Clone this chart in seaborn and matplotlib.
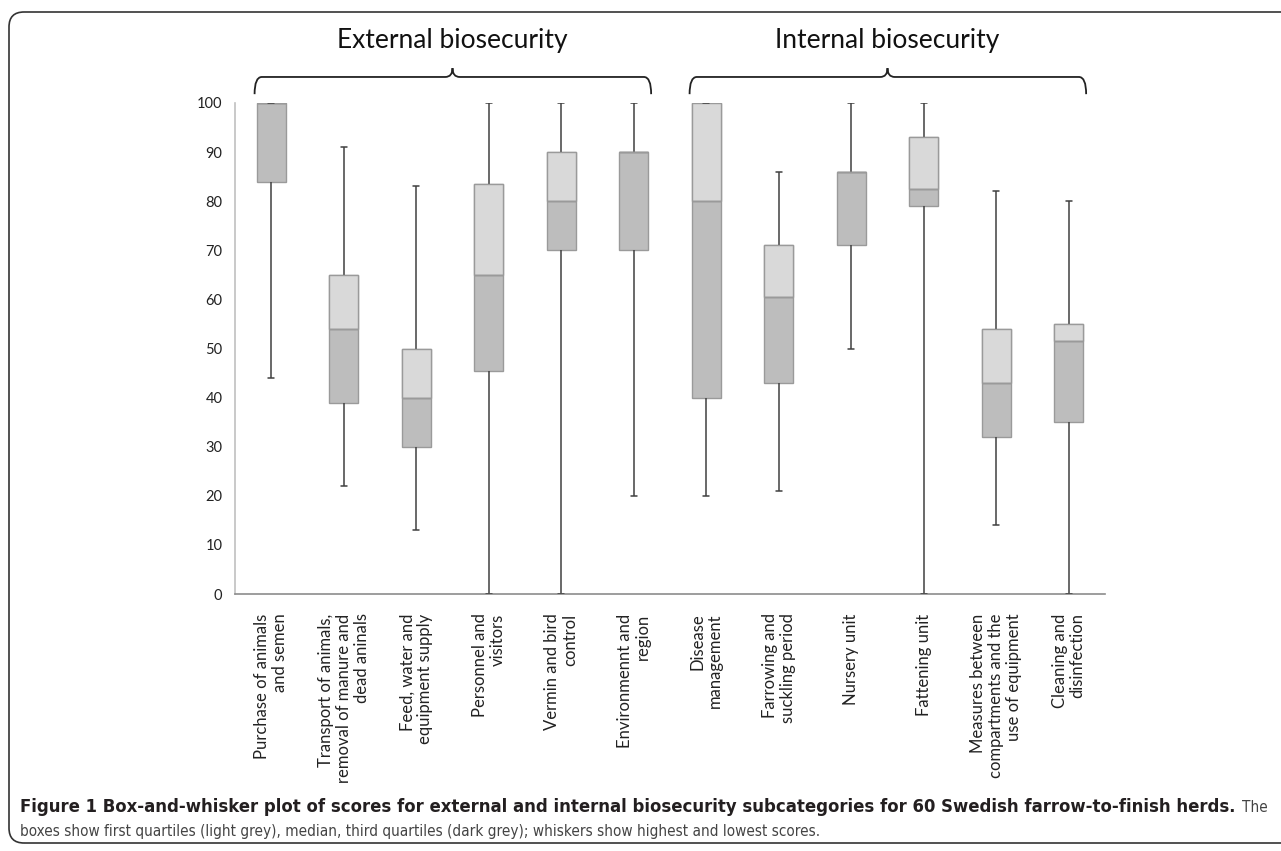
import matplotlib
matplotlib.use("Agg")
import matplotlib.pyplot as plt
import matplotlib.transforms as mtransforms
from matplotlib.path import Path
from matplotlib.patches import PathPatch, FancyBboxPatch
from matplotlib import font_manager
import seaborn as sns
import pandas as pd

# ---- data ----
categories = [
    "Purchase of animals\nand semen",
    "Transport of animals,\nremoval of manure and\ndead aninals",
    "Feed, water and\nequipment supply",
    "Personnel and\nvisitors",
    "Vermin and bird\ncontrol",
    "Environmennt and\nregion",
    "Disease\nmanagement",
    "Farrowing and\nsuckling period",
    "Nursery unit",
    "Fattening unit",
    "Measures between\ncompartments and the\nuse of equipment",
    "Cleaning and\ndisinfection",
]
lowest  = [44, 22, 13, 0,    0,  20, 20, 21,   50, 0,    14, 0]
q1      = [84, 39, 30, 45.5, 70, 70, 40, 43,   71, 79,   32, 35]
median  = [100, 54, 40, 65,  80, 90, 80, 60.5, 86, 82.5, 43, 51.5]
q3      = [100, 65, 50, 83.5, 90, 90, 100, 71, 86, 93,   54, 55]
highest = [100, 91, 83, 100, 100, 100, 100, 86, 100, 100, 82, 80]
groups = ["External biosecurity", "Internal biosecurity"]
group_members = [(0, 5), (6, 11)]
y_ticks = list(range(0, 101, 10))

caption_bold = ("Figure 1 Box-and-whisker plot of scores for external and internal "
                "biosecurity subcategories for 60 Swedish farrow-to-finish herds.")
caption_rest = "The"
caption_line2 = ("boxes show first quartiles (light grey), median, third quartiles "
                 "(dark grey); whiskers show highest and lowest scores.")

# five-number rows -> exact quartiles with linear percentiles
full_rows = []
upper_rows = []
for i, cat in enumerate(categories):
    for v in [lowest[i], q1[i], median[i], q3[i], highest[i]]:
        full_rows.append((cat, v))
    for v in [median[i], median[i], median[i], q3[i], q3[i]]:
        upper_rows.append((cat, v))
df_full = pd.DataFrame(full_rows, columns=["category", "score"])
df_upper = pd.DataFrame(upper_rows, columns=["category", "score"])

DARK = "#bdbdbd"
LIGHT = "#d9d9d9"
EDGE = "#9a9a9a"
WHISK = "#404040"

sns.set_style("white")
installed = {f.name for f in font_manager.fontManager.ttflist}
main_font = "Lato" if "Lato" in installed else "DejaVu Sans"
plt.rcParams["font.family"] = [main_font, "DejaVu Sans"]
cap_font = dict(family=["DejaVu Sans"], fontstretch="condensed")

W, H = 1281, 851
fig = plt.figure(figsize=(W / 100, H / 100), dpi=100)
ax = fig.add_axes([235 / W, (H - 594) / H, 870 / W, 491 / H])

# dark box Q1 -> median, with whiskers
sns.boxplot(data=df_full, x="category", y="score", order=categories, ax=ax,
            whis=(0, 100), width=0.405, color=DARK, saturation=1,
            linecolor=EDGE, linewidth=1.0, showfliers=False,
            whiskerprops=dict(color=WHISK, linewidth=1.1),
            capprops=dict(color=WHISK, linewidth=1.1, zorder=5),
            capwidths=0.085)
# light box median -> Q3
sns.boxplot(data=df_upper, x="category", y="score", order=categories, ax=ax,
            whis=(0, 100), width=0.405, color=LIGHT, saturation=1,
            linecolor=EDGE, linewidth=1.0, showfliers=False, showcaps=False,
            whiskerprops=dict(linewidth=0))

ax.set_ylim(0, 100)
ax.set_xlim(-0.5, len(categories) - 0.5)
ax.set_yticks(y_ticks)
ax.set_xlabel("")
ax.set_ylabel("")
sns.despine(ax=ax, top=True, right=True)
ax.spines["left"].set_color("#c0c0c0")
ax.spines["bottom"].set_color("#8c8c8c")
ax.spines["left"].set_linewidth(1.2)
ax.spines["bottom"].set_linewidth(1.2)
ax.tick_params(axis="y", length=4, color="#b0b0b0", pad=5, labelsize=10.5,
               labelcolor="#222222")
ax.tick_params(axis="x", length=0, pad=14, labelsize=12, labelcolor="#222222")
ax.set_xticks(range(len(categories)))
ax.set_xticklabels(categories, rotation=90, ha="center", va="top")
for lbl in ax.get_xticklabels():
    lbl.set_multialignment("right")
    lbl.set_linespacing(1.15)

# group braces and headings
trans = mtransforms.blended_transform_factory(ax.transData, ax.transAxes)
y_end, y_line, y_tip = 1.018, 1.053, 1.071
dx = 0.1
for name, (a, b) in zip(groups, group_members):
    x0, x1, xc = a - 0.23, b + 0.24, (a + b) / 2
    verts = [(x0, y_end), (x0, y_line), (x0 + dx, y_line),
             (xc - dx, y_line), (xc, y_line), (xc, y_tip),
             (xc, y_line), (xc + dx, y_line),
             (x1 - dx, y_line), (x1, y_line), (x1, y_end)]
    codes = [Path.MOVETO, Path.CURVE3, Path.CURVE3,
             Path.LINETO, Path.CURVE3, Path.CURVE3,
             Path.CURVE3, Path.CURVE3,
             Path.LINETO, Path.CURVE3, Path.CURVE3]
    ax.add_patch(PathPatch(Path(verts, codes), transform=trans, fill=False,
                           edgecolor="#222222", linewidth=1.3, clip_on=False))
    ax.text(xc, 1.112, name, transform=trans, ha="center", va="baseline",
            fontsize=19, color="#111111")

# outer frame
frame = FancyBboxPatch((0.09, 0.08), 13.5, 8.31,
                       boxstyle="round,pad=0,rounding_size=0.15",
                       transform=fig.dpi_scale_trans, fill=False,
                       edgecolor="#333333", linewidth=1.2)
fig.patches.append(frame)

# caption
t1 = fig.text(20 / W, 1 - 812 / H, caption_bold, fontsize=13, fontweight="bold",
              color="#231f20", va="baseline", **cap_font)
t3 = fig.text(20 / W, 1 - 836 / H, caption_line2, fontsize=11,
              color="#444444", va="baseline", **cap_font)
fig.canvas.draw()
r = fig.canvas.get_renderer()
for t, target in [(t1, 1217), (t3, 800)]:
    w = t.get_window_extent(r).width
    t.set_fontsize(t.get_fontsize() * target / w)
fig.canvas.draw()
bb = t1.get_window_extent(r)
fig.text((bb.x1 + 6) / W, 1 - 812 / H, caption_rest, fontsize=t3.get_fontsize(),
         color="#444444", va="baseline", **cap_font)

fig.savefig("out.png", dpi=100)
